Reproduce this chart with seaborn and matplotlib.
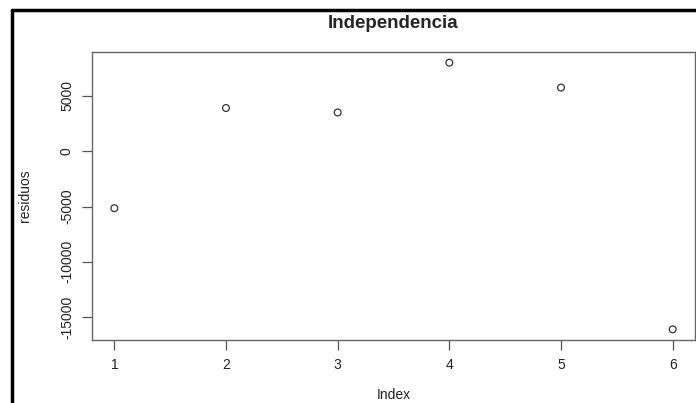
import seaborn as sns
import matplotlib.pyplot as plt
import pandas as pd
from matplotlib.lines import Line2D

index = [1, 2, 3, 4, 5, 6]
residuos = [-5150, 3900, 3500, 8000, 5750, -16100]
x_ticks = [1, 2, 3, 4, 5, 6]
y_ticks = [-15000, -10000, -5000, 0, 5000]

df = pd.DataFrame({'Index': index, 'residuos': residuos})

sns.set_style('white')
plt.rcParams['font.family'] = ['Liberation Sans', 'DejaVu Sans']

W, H = 696, 403
L, T, R, B = 92, 52, 695, 340
fig = plt.figure(figsize=(W / 100, H / 100), dpi=100)
ax = fig.add_axes([L / W, 1 - B / H, (R - L) / W, (B - T) / H])

sns.scatterplot(data=df, x='Index', y='residuos', ax=ax, s=24,
                facecolor='none', edgecolor='#333333', linewidth=0.9, marker='o')

ax.set_xlim(0.8, 6.2)
ax.set_ylim(-17064, 8964)
ax.set_xticks(x_ticks)
ax.set_yticks(y_ticks)
ax.set_yticklabels([str(v) for v in y_ticks], rotation=90, va='center')
ax.tick_params(axis='both', direction='out', length=7, width=0.9, color='#555555',
               labelsize=10, labelcolor='#222222', bottom=True, left=True, pad=6)
for sp in ax.spines.values():
    sp.set_color('#666666')
    sp.set_linewidth(1.0)

ax.set_xlabel('Index', fontsize=10, color='#222222', va='center')
ax.set_ylabel('residuos', fontsize=10, color='#222222', va='center')
ax.xaxis.set_label_coords(0.5, -(395 - B) / (B - T))
ax.yaxis.set_label_coords(-(L - 25) / (R - L), 0.5)
ax.set_title('Independencia', fontsize=13.5, fontweight='bold', pad=17)

# outer frame of the screenshot
fig.add_artist(Line2D([12 / W, 12 / W], [0, 1 - 10 / H], color='black', lw=2.5,
                      transform=fig.transFigure))
fig.add_artist(Line2D([12 / W, 1], [1 - 10 / H, 1 - 10 / H], color='black', lw=2.5,
                      transform=fig.transFigure))

fig.savefig('out.png', dpi=100)
plt.close()
